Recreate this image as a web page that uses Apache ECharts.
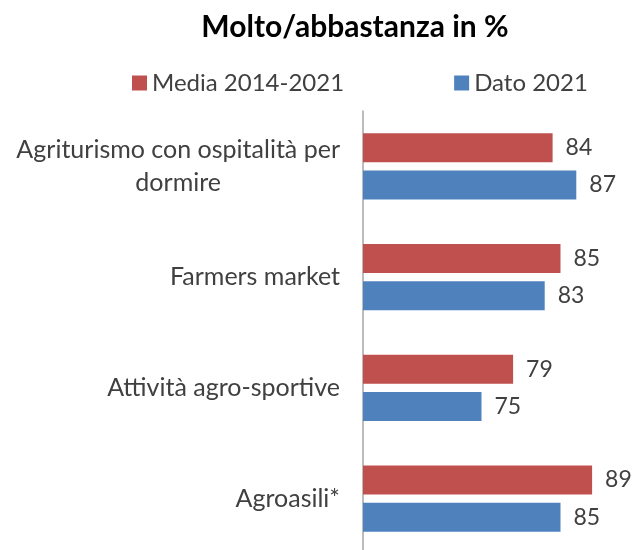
<!DOCTYPE html>
<html>
<head>
<meta charset="utf-8">
<script src="https://cdn.jsdelivr.net/npm/echarts@6/dist/echarts.min.js"></script>
<style>
  html, body { margin: 0; padding: 0; background: #fff; }
  #chart { width: 637px; height: 550px; }
</style>
</head>
<body>
<div id="chart"></div>
<script>
var categories = ['Agriturismo con ospitalità per\ndormire', 'Farmers market', 'Attività agro-sportive', 'Agroasili*'];
var media = [84, 85, 79, 89];
var dato = [87, 83, 75, 85];
var seriesNames = ['Media 2014-2021', 'Dato 2021'];

var FONT = 'Lato';
var textColor = '#404040';
var labelSize = 25;

function textWidth(s, size) {
    var ctx = document.createElement('canvas').getContext('2d');
    ctx.font = 'normal normal ' + size + 'px ' + FONT;
    return ctx.measureText(s).width;
}

// spazio vuoto da mettere dopo ogni riga corta, per centrarla sotto la più lunga
function linePads(v) {
    var lines = v.split('\n');
    var widths = lines.map(function (l) { return textWidth(l, labelSize); });
    var maxW = Math.max.apply(null, widths);
    return lines.map(function (l, i) {
        return { text: l, pad: Math.round((maxW - widths[i]) / 2) };
    });
}

function draw() {
    var myChart = echarts.init(document.getElementById('chart'));

    var rich = { r: { align: 'right', fontFamily: FONT, fontSize: labelSize, color: textColor, lineHeight: 33 } };
    categories.forEach(function (c) {
        if (c.indexOf('\n') < 0) return;
        linePads(c).forEach(function (p) {
            if (p.pad > 0) rich['g' + p.pad] = { align: 'right', width: p.pad, fontSize: labelSize, lineHeight: 33 };
        });
    });

    var options = {
        animation: false,
        title: {
            text: 'Molto/abbastanza in %',
            left: 350,
            top: 7,
            textAlign: 'center',
            textStyle: { fontFamily: FONT, fontSize: 30, fontWeight: 'bold', color: '#000' }
        },
        legend: {
            data: seriesNames,
            left: 127,
            top: 66,
            itemWidth: 15,
            itemHeight: 15,
            itemGap: 110,
            icon: 'rect',
            textStyle: { fontFamily: FONT, fontSize: 24, color: textColor }
        },
        grid: { left: 363, right: 37, top: 111, bottom: -4, outerBoundsMode: 'none' },
        xAxis: {
            type: 'value',
            min: 60,
            max: 90,
            show: false
        },
        yAxis: {
            type: 'category',
            inverse: true,
            data: categories,
            axisLine: { lineStyle: { color: '#A6A6A6', width: 1.5 } },
            axisTick: { show: false },
            axisLabel: {
                margin: 23,
                fontFamily: FONT,
                fontSize: labelSize,
                color: textColor,
                lineHeight: 33,
                formatter: function (v) {
                    if (v.indexOf('\n') < 0) return v;
                    return linePads(v).map(function (p) {
                        return '{r|' + p.text + '}' + (p.pad > 0 ? '{g' + p.pad + '| }' : '');
                    }).join('\n');
                },
                rich: rich
            }
        },
        series: [
            {
                name: seriesNames[0],
                type: 'bar',
                data: media,
                barWidth: 29,
                barGap: '28%',
                itemStyle: { color: '#C0504D' },
                label: { show: true, position: 'right', distance: 13, fontFamily: FONT, fontSize: 23, color: textColor }
            },
            {
                name: seriesNames[1],
                type: 'bar',
                data: dato,
                barWidth: 29,
                barGap: '28%',
                itemStyle: { color: '#4F81BD' },
                label: { show: true, position: 'right', distance: 13, fontFamily: FONT, fontSize: 23, color: textColor }
            }
        ]
    };
    myChart.setOption(options);
}

// il font locale va caricato prima di misurare i testi
if (document.fonts && document.fonts.load) {
    Promise.all([
        document.fonts.load('25px Lato'),
        document.fonts.load('bold 30px Lato')
    ]).then(draw, draw);
} else {
    draw();
}
</script>
</body>
</html>
